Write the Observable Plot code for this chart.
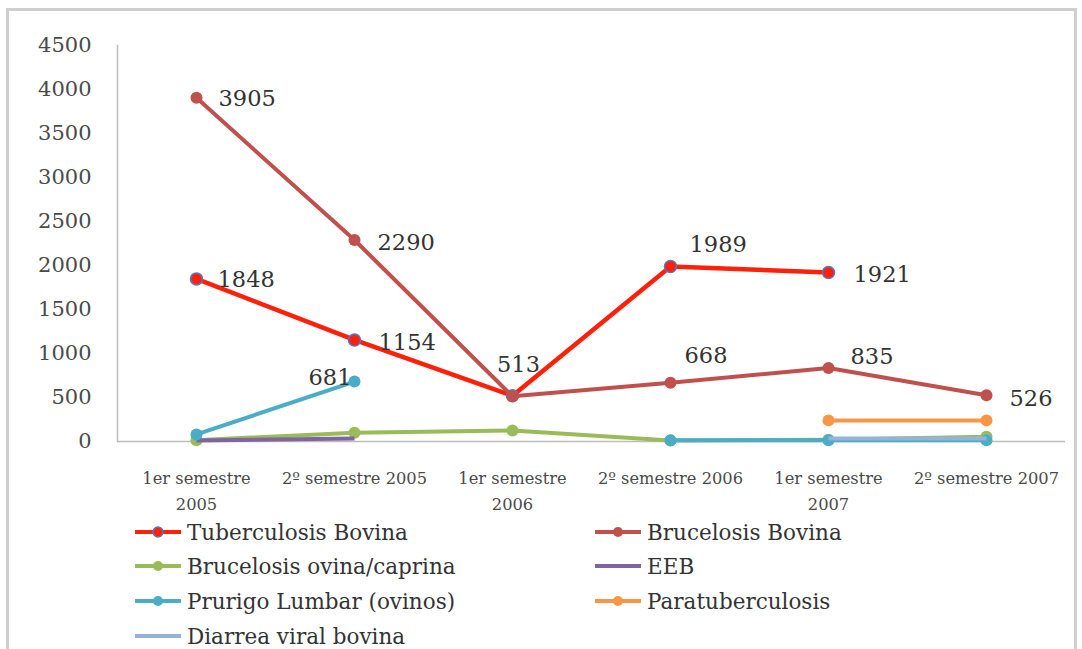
<!DOCTYPE html>
<html>
<head>
<meta charset="utf-8">
<script src="https://cdn.jsdelivr.net/npm/d3@7"></script>
<script src="https://cdn.jsdelivr.net/npm/@observablehq/plot@0.6"></script>
<style>
  html, body { margin: 0; padding: 0; background: #fff; }
  #wrap { position: relative; width: 1082px; height: 649px; overflow: hidden; font-family: "DejaVu Serif", serif; }
  #border { position: absolute; left: 6px; top: 8px; width: 1071px; height: 660px; border: 3px solid #cfcfcf; box-sizing: border-box; }
  #chart { position: absolute; left: 0; top: 0; }
  .leg { position: absolute; display: flex; align-items: center; font-size: 21.5px; color: #333; white-space: nowrap; }
  .leg svg { margin-right: 6px; }
</style>
</head>
<body>
<div id="wrap">
  <div id="border"></div>
  <div id="chart"></div>
  <div id="legend"></div>
</div>
<script>
// Semesters on the x axis (line breaks as printed under the axis)
const categories = [
  "1er semestre\n2005",
  "2º semestre 2005",
  "1er semestre\n2006",
  "2º semestre 2006",
  "1er semestre\n2007",
  "2º semestre 2007"
];

// Cases per semester; null where a disease was not reported
const tuberculosisBovina = [1848, 1154, 520, 1989, 1921, null];
const brucelosisBovina   = [3905, 2290, 513, 668, 835, 526];
const brucelosisOvina    = [15, 100, 125, 10, 20, 55];
const eeb                = [10, 35, null, null, null, null];
const prurigoLumbar      = [80, 681, null, 15, 15, 15];
const paratuberculosis   = [null, null, null, null, 240, 240];
const diarreaViral       = [null, null, null, null, 35, 35];

const yTicks = [0, 500, 1000, 1500, 2000, 2500, 3000, 3500, 4000, 4500];

// Series, drawn in this order
const seriesNames = [
  "Tuberculosis Bovina",
  "Brucelosis Bovina",
  "Brucelosis ovina/caprina",
  "EEB",
  "Prurigo Lumbar (ovinos)",
  "Paratuberculosis",
  "Diarrea viral bovina"
];
const seriesValues = [
  tuberculosisBovina, brucelosisBovina, brucelosisOvina, eeb,
  prurigoLumbar, paratuberculosis, diarreaViral
];

// Appearance of each series
const seriesStyle = {
  "Tuberculosis Bovina":      {color: "#ff200a", width: 4.5, marker: true, markerStroke: "#5577c0"},
  "Brucelosis Bovina":        {color: "#c0504d", width: 4,   marker: true},
  "Brucelosis ovina/caprina": {color: "#9bbb59", width: 4,   marker: true},
  "EEB":                      {color: "#8064a2", width: 4,   marker: false},
  "Prurigo Lumbar (ovinos)":  {color: "#4bacc6", width: 4,   marker: true},
  "Paratuberculosis":         {color: "#f79646", width: 4,   marker: true},
  "Diarrea viral bovina":     {color: "#95b3d7", width: 4,   marker: false}
};

// Which points carry a value label, and where the label sits
const labelPlacement = [
  {series: "Tuberculosis Bovina", i: 0, anchor: "start",  dx: 21,  dy: 1},
  {series: "Tuberculosis Bovina", i: 1, anchor: "start",  dx: 24,  dy: 3},
  {series: "Tuberculosis Bovina", i: 3, anchor: "start",  dx: 19,  dy: -22},
  {series: "Tuberculosis Bovina", i: 4, anchor: "start",  dx: 25,  dy: 2},
  {series: "Brucelosis Bovina",   i: 0, anchor: "start",  dx: 22,  dy: 1},
  {series: "Brucelosis Bovina",   i: 1, anchor: "start",  dx: 23,  dy: 3},
  {series: "Brucelosis Bovina",   i: 2, anchor: "middle", dx: 6,   dy: -32},
  {series: "Brucelosis Bovina",   i: 3, anchor: "start",  dx: 14,  dy: -27},
  {series: "Brucelosis Bovina",   i: 4, anchor: "start",  dx: 22,  dy: -11},
  {series: "Brucelosis Bovina",   i: 5, anchor: "start",  dx: 23,  dy: 4},
  {series: "Prurigo Lumbar (ovinos)", i: 1, anchor: "end", dx: -3, dy: -4}
];

// Long table built from the arrays above
const table = seriesNames.flatMap((name, s) =>
  categories.map((cat, i) => ({series: name, cat, value: seriesValues[s][i]}))
);

const marks = [
  Plot.frame({anchor: "left", stroke: "#bdbdbd", strokeWidth: 1.5}),
  Plot.ruleY([0], {stroke: "#bdbdbd", strokeWidth: 1.5}),
  Plot.axisY({
    ticks: yTicks, tickSize: 0, tickPadding: 26,
    tickFormat: d3.format("d"), fontSize: 21, fill: "#4a4a4a", label: null
  }),
  Plot.text(categories, {
    x: d => d, frameAnchor: "bottom", lineAnchor: "top", dy: 25,
    lineHeight: 1.55, fontSize: 16.3, fill: "#4a4a4a"
  })
];

for (const name of seriesNames) {
  const st = seriesStyle[name];
  const rows = table.filter(d => d.series === name);
  marks.push(Plot.line(rows, {
    x: "cat", y: "value", stroke: st.color, strokeWidth: st.width,
    strokeLinejoin: "round", strokeLinecap: "butt"
  }));
  if (st.marker) {
    marks.push(Plot.dot(rows.filter(d => d.value != null), {
      x: "cat", y: "value", r: 6, fill: st.color,
      stroke: st.markerStroke || st.color, strokeWidth: st.markerStroke ? 1.5 : 0
    }));
  }
}

for (const lp of labelPlacement) {
  const s = seriesNames.indexOf(lp.series);
  const row = {cat: categories[lp.i], value: seriesValues[s][lp.i]};
  marks.push(Plot.text([row], {
    x: "cat", y: "value", text: d => String(d.value),
    textAnchor: lp.anchor, dx: lp.dx, dy: lp.dy,
    fontSize: 22.5, fill: "#333"
  }));
}

const chart = Plot.plot({
  width: 1082,
  height: 515,
  marginLeft: 117,
  marginRight: 17,
  marginTop: 45,
  marginBottom: 74,
  style: {fontFamily: "DejaVu Serif, serif", background: "transparent"},
  x: {type: "point", domain: categories, padding: 0.5, axis: null},
  y: {domain: [0, 4500], axis: null},
  marks
});
document.getElementById("chart").appendChild(chart);

// Legend in two columns below the chart
const legendCols = [135, 595];
const legendRows = [532, 566, 601, 636];
const legend = document.getElementById("legend");
seriesNames.forEach((name, k) => {
  const st = seriesStyle[name];
  const el = document.createElement("div");
  el.className = "leg";
  el.style.left = legendCols[k % 2] + "px";
  el.style.top = (legendRows[Math.floor(k / 2)] - 15) + "px";
  const dot = st.marker
    ? `<circle cx="23" cy="15" r="5" fill="${st.color}" stroke="${st.markerStroke || st.color}" stroke-width="${st.markerStroke ? 1.5 : 0}"/>`
    : "";
  el.innerHTML = `<svg width="46" height="30"><line x1="0" x2="46" y1="15" y2="15" stroke="${st.color}" stroke-width="4"/>${dot}</svg><span>${name}</span>`;
  legend.appendChild(el);
});
</script>
</body>
</html>
